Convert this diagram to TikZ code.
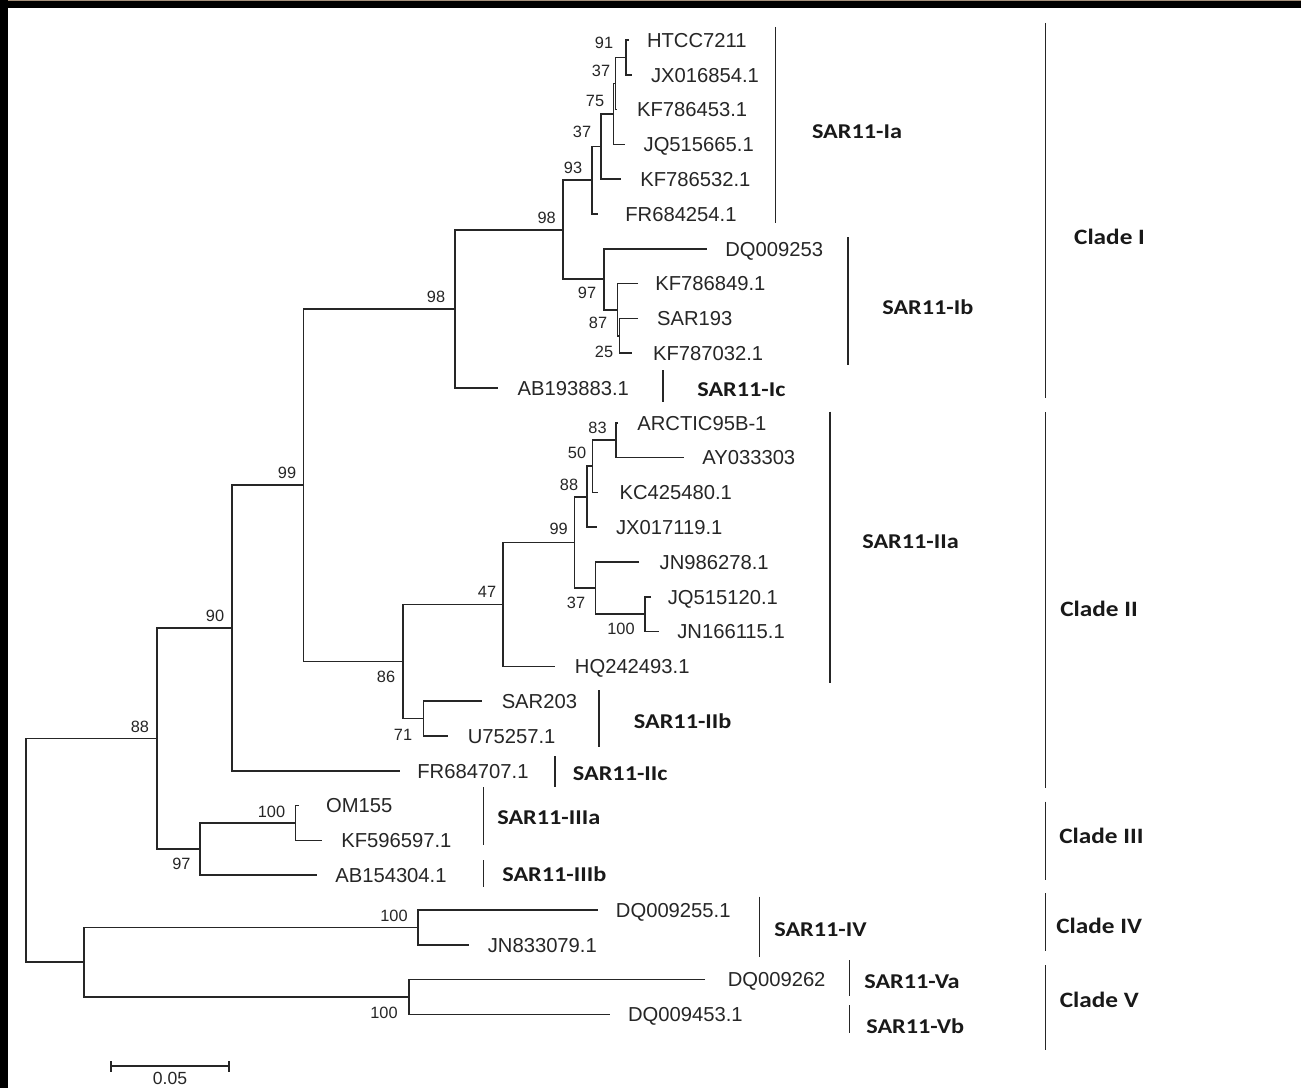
\documentclass[tikz,border=0pt]{standalone}
\usepackage{fontspec}
\setmainfont{Liberation Sans}
\newfontfamily\labfont[FakeStretch=1.15]{Carlito}
\begin{document}
\begin{tikzpicture}[x=0.02cm,y=-0.02cm,
  br/.style={line width=0.95pt, draw=black!85},
  barline/.style={line width=1pt, draw=black!85},
  leaf/.style={anchor=west, inner sep=0pt, font=\fontsize{11.5}{13}\selectfont, text height=8.2pt, text depth=0pt, text=black!85},
  boot/.style={inner sep=0pt, font=\fontsize{9.3}{11}\selectfont, text height=6.7pt, text depth=0pt, text=black!85},
  sublab/.style={anchor=west, inner sep=0pt, font=\labfont\bfseries\fontsize{12}{14}\selectfont, text height=7.7pt, text depth=0pt, text=black!90},
  cladelab/.style={anchor=west, inner sep=0pt, font=\labfont\bfseries\fontsize{12.5}{15}\selectfont, text height=8.05pt, text depth=0pt, text=black!90}]
\useasboundingbox (0,0) rectangle (1301,1088);
\fill[white] (0,0) rectangle (1301,1088);
\fill[black] (0,0) rectangle (1301,8);
\fill[black!45!brown!60!white] (0,0) rectangle (1301,1.2);
\fill[black] (0,0) rectangle (7.5,1088);

% leaf tips
\coordinate (t0) at (628.5,40);
\coordinate (t1) at (632,74.8);
\coordinate (t2) at (617,109.6);
\coordinate (t3) at (625,144.4);
\coordinate (t4) at (621,179.2);
\coordinate (t5) at (598,214);
\coordinate (t6) at (706.7,248.8);
\coordinate (t7) at (638,283.6);
\coordinate (t8) at (638,318.4);
\coordinate (t9) at (631.7,353.2);
\coordinate (t10) at (498,388);
\coordinate (t11) at (618,422.8);
\coordinate (t12) at (683.6,457.6);
\coordinate (t13) at (598,492.4);
\coordinate (t14) at (597,527.2);
\coordinate (t15) at (639,562);
\coordinate (t16) at (651,596.8);
\coordinate (t17) at (658.6,631.6);
\coordinate (t18) at (555,666.4);
\coordinate (t19) at (481.8,701.2);
\coordinate (t20) at (447.9,736);
\coordinate (t21) at (400.4,770.8);
\coordinate (t22) at (299,805.6);
\coordinate (t23) at (321.6,840.4);
\coordinate (t24) at (317.4,875.2);
\coordinate (t25) at (597.5,910);
\coordinate (t26) at (469,944.8);
\coordinate (t27) at (705,979.6);
\coordinate (t28) at (610,1014.4);

% internal nodes
\coordinate (A) at (626,57.4);
\coordinate (B) at (615.5,83.5);
\coordinate (C) at (613.5,113.95);
\coordinate (D) at (601,146.6);
\coordinate (E) at (592,180.3);
\coordinate (n25) at (619.5,335.8);
\coordinate (n87) at (617.5,309.7);
\coordinate (n97) at (604,279.25);
\coordinate (n98i) at (563.3,229.8);
\coordinate (n98o) at (455,308.9);
\coordinate (n83) at (615.7,440.2);
\coordinate (n50) at (592.5,466.3);
\coordinate (n88c) at (587,496.75);
\coordinate (n100c) at (645,614.2);
\coordinate (n37c) at (595.4,588.1);
\coordinate (n99c) at (574.6,542.4);
\coordinate (n47) at (503,604.4);
\coordinate (n71) at (423.6,718.6);
\coordinate (n86) at (403,661.5);
\coordinate (n99b) at (303.5,485.2);
\coordinate (n90) at (232.3,628);
\coordinate (n100t) at (295.4,823);
\coordinate (n97t) at (200,849.1);
\coordinate (n88) at (157.3,738.55);
\coordinate (n100f) at (418.3,927.4);
\coordinate (n100v) at (408.7,997);
\coordinate (nIV) at (83.8,962.2);
\coordinate (root) at (26,850.4);

% branches
\draw[br] (t0) -| (A) |- (t1);
\draw[br] (A) -| (B) |- (t2);
\draw[br] (B) -| (C) |- (t3);
\draw[br] (C) -| (D) |- (t4);
\draw[br] (D) -| (E) |- (t5);
\draw[br] (t8) -| (n25) |- (t9);
\draw[br] (t7) -| (n87) |- (n25);
\draw[br] (t6) -| (n97) |- (n87);
\draw[br] (E) -| (n98i) |- (n97);
\draw[br] (n98i) -| (n98o) |- (t10);
\draw[br] (t11) -| (n83) |- (t12);
\draw[br] (n83) -| (n50) |- (t13);
\draw[br] (n50) -| (n88c) |- (t14);
\draw[br] (t16) -| (n100c) |- (t17);
\draw[br] (t15) -| (n37c) |- (n100c);
\draw[br] (n88c) -| (n99c) |- (n37c);
\draw[br] (n99c) -| (n47) |- (t18);
\draw[br] (t19) -| (n71) |- (t20);
\draw[br] (n47) -| (n86) |- (n71);
\draw[br] (n98o) -| (n99b) |- (n86);
\draw[br] (n99b) -| (n90) |- (t21);
\draw[br] (t22) -| (n100t) |- (t23);
\draw[br] (n100t) -| (n97t) |- (t24);
\draw[br] (n90) -| (n88) |- (n97t);
\draw[br] (t25) -| (n100f) |- (t26);
\draw[br] (t27) -| (n100v) |- (t28);
\draw[br] (n100f) -| (nIV) |- (n100v);
\draw[br] (n88) -| (root) |- (nIV);

% leaf labels
\node[leaf] (l0) at (646.7,40) {HTCC7211};
\node[leaf] (l1) at (650.7,74.8) {JX016854.1};
\node[leaf] (l2) at (636.7,109.6) {KF786453.1};
\node[leaf] (l3) at (643.3,144.4) {JQ515665.1};
\node[leaf] (l4) at (640,179.2) {KF786532.1};
\node[leaf] (l5) at (625,214) {FR684254.1};
\node[leaf] (l6) at (725,248.8) {DQ009253};
\node[leaf] (l7) at (655,283.6) {KF786849.1};
\node[leaf] (l8) at (656.7,318.4) {SAR193};
\node[leaf] (l9) at (652.7,353.2) {KF787032.1};
\node[leaf] (l10) at (517.3,388) {AB193883.1};
\node[leaf] (l11) at (637,422.8) {ARCTIC95B-1};
\node[leaf] (l12) at (702,457.6) {AY033303};
\node[leaf] (l13) at (619.3,492.4) {KC425480.1};
\node[leaf] (l14) at (615.7,527.2) {JX017119.1};
\node[leaf] (l15) at (659.3,562) {JN986278.1};
\node[leaf] (l16) at (667.5,596.8) {JQ515120.1};
\node[leaf] (l17) at (677,631.6) {JN166115.1};
\node[leaf] (l18) at (574.6,666.4) {HQ242493.1};
\node[leaf] (l19) at (501.4,701.2) {SAR203};
\node[leaf] (l20) at (467.5,736) {U75257.1};
\node[leaf] (l21) at (417,770.8) {FR684707.1};
\node[leaf] (l22) at (325.7,805.6) {OM155};
\node[leaf] (l23) at (341,840.4) {KF596597.1};
\node[leaf] (l24) at (335,875.2) {AB154304.1};
\node[leaf] (l25) at (615.6,910) {DQ009255.1};
\node[leaf] (l26) at (487.5,944.8) {JN833079.1};
\node[leaf] (l27) at (727.4,979.6) {DQ009262};
\node[leaf] (l28) at (627.7,1014.4) {DQ009453.1};

% bootstrap values
\node[boot] (bA) at (604,43) {91};
\node[boot] (bB) at (601,71) {37};
\node[boot] (bC) at (595,101) {75};
\node[boot] (bD) at (582,132) {37};
\node[boot] (bE) at (573,168) {93};
\node[boot] (b98i) at (546.7,218) {98};
\node[boot] (b98o) at (436,297) {98};
\node[boot] (b97) at (587,293) {97};
\node[boot] (b87) at (598,323) {87};
\node[boot] (b25) at (604,352) {25};
\node[boot] (b83) at (597.5,428) {83};
\node[boot] (b50) at (577,453) {50};
\node[boot] (b88c) at (569,485) {88};
\node[boot] (b99c) at (558.6,529) {99};
\node[boot] (b37c) at (576,603) {37};
\node[boot] (b100c) at (621,629) {100};
\node[boot] (b47) at (487,592) {47};
\node[boot] (b86) at (386,677) {86};
\node[boot] (b71) at (403,735) {71};
\node[boot] (b99b) at (287,473) {99};
\node[boot] (b90) at (215,616) {90};
\node[boot] (b88) at (140,727) {88};
\node[boot] (b100t) at (271.5,811.5) {100};
\node[boot] (b97t) at (181.5,864) {97};
\node[boot] (b100f) at (394,915.5) {100};
\node[boot] (b100v) at (384,1013) {100};

% subclade bars and labels
\draw[barline] (775.5,27) -- (775.5,223);
\node[sublab] (sIa) at (811.7,132) {SAR11-Ia};
\draw[barline] (848,237) -- (848,365);
\node[sublab] (sIb) at (882,308) {SAR11-Ib};
\draw[barline] (663.3,370) -- (663.3,402);
\node[sublab] (sIc) at (697,390) {SAR11-Ic};
\draw[barline] (830,411.7) -- (830,683);
\node[sublab] (sIIa) at (862,542) {SAR11-IIa};
\draw[barline] (599,690) -- (599,746.7);
\node[sublab] (sIIb) at (633.6,722) {SAR11-IIb};
\draw[barline] (555,756) -- (555,787);
\node[sublab] (sIIc) at (572.6,774) {SAR11-IIc};
\draw[barline] (483.4,787) -- (483.4,845);
\node[sublab] (sIIIa) at (497,818) {SAR11-IIIa};
\draw[barline] (483.4,860) -- (483.4,887);
\node[sublab] (sIIIb) at (502,875) {SAR11-IIIb};
\draw[barline] (759.6,896.7) -- (759.6,956.7);
\node[sublab] (sIV) at (774,930) {SAR11-IV};
\draw[barline] (849.4,960) -- (849.4,996);
\node[sublab] (sVa) at (864,981.7) {SAR11-Va};
\draw[barline] (849.4,1005) -- (849.4,1033);
\node[sublab] (sVb) at (866,1026.7) {SAR11-Vb};

% clade bars and labels
\draw[barline] (1045.5,23) -- (1045.5,398);
\node[cladelab] (cI) at (1073.8,237) {Clade I};
\draw[barline] (1045.5,412) -- (1045.5,788);
\node[cladelab] (cII) at (1060,609) {Clade II};
\draw[barline] (1045.5,801.7) -- (1045.5,880);
\node[cladelab] (cIII) at (1059,836) {Clade III};
\draw[barline] (1045.5,893) -- (1045.5,950.7);
\node[cladelab] (cIV) at (1056,926) {Clade IV};
\draw[barline] (1045.5,965) -- (1045.5,1050);
\node[cladelab] (cV) at (1059.5,1000) {Clade V};

% scale bar
\coordinate (sb1) at (111,1066);
\coordinate (sb2) at (229,1066);
\draw[br] (sb1) -- (sb2);
\draw[br] ([yshift=0.1cm]sb1) -- ([yshift=-0.12cm]sb1);
\draw[br] ([yshift=0.1cm]sb2) -- ([yshift=-0.12cm]sb2);
\node[boot, font=\fontsize{10}{12}\selectfont] (sblab) at (170,1079) {0.05};
\end{tikzpicture}
\end{document}
